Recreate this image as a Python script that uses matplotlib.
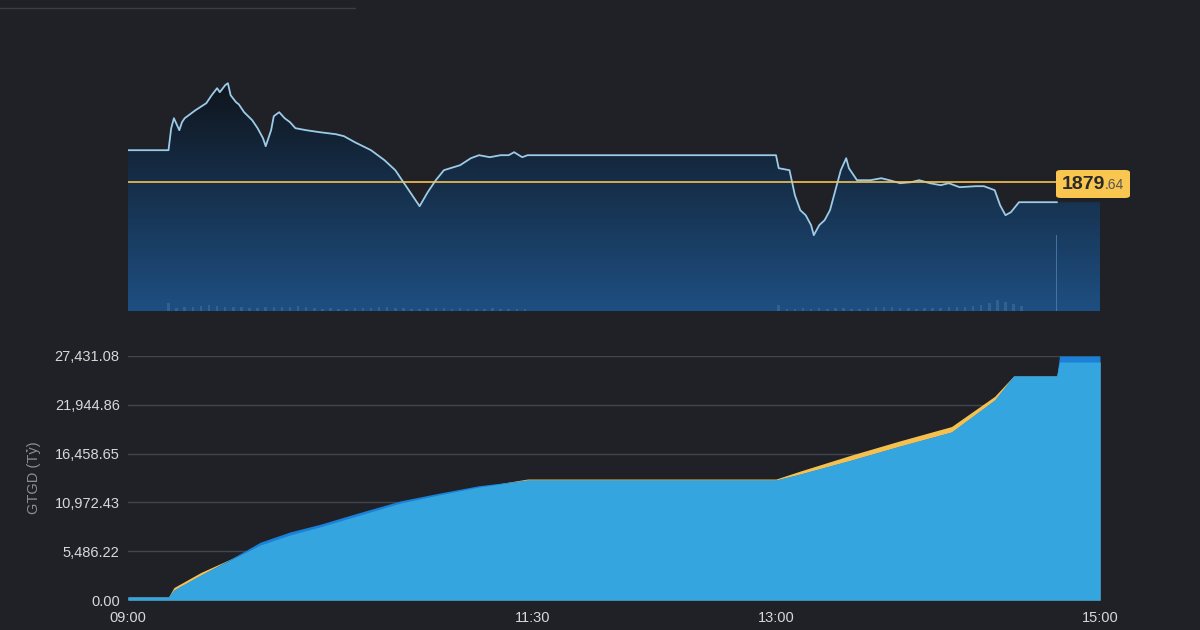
import numpy as np
import matplotlib.pyplot as plt
from matplotlib.patches import FancyBboxPatch
from matplotlib.colors import LinearSegmentedColormap

# =========================
# data (minutes from 09:00)
# =========================
price_t = [0, 15, 16, 17, 19, 20, 21, 25, 29, 31, 33, 34, 36, 37, 38, 40, 41, 43, 46, 48,
           50, 51, 53, 54, 56, 58, 60, 62, 66, 71, 77, 80, 84, 90, 95, 99, 101, 104, 108, 111,
           114, 117, 123, 127, 130, 134, 138, 141, 143, 146, 148, 240, 241, 245, 247, 249, 251,
           253, 254, 256, 258, 260, 262, 264, 266, 267, 270, 275, 279, 282, 286, 290, 293, 297,
           301, 304, 308, 314, 317, 321, 323, 325, 327, 330, 344]
price_v = [1886.0, 1886.0, 1890.4, 1892.4, 1890.0, 1891.6, 1892.4, 1894.0, 1895.4, 1897.0,
           1898.4, 1897.6, 1899.0, 1899.4, 1897.0, 1895.6, 1895.2, 1893.6, 1892.0, 1890.4,
           1888.4, 1886.8, 1890.0, 1892.8, 1893.6, 1892.4, 1891.6, 1890.4, 1890.0, 1889.6,
           1889.2, 1888.8, 1887.6, 1886.0, 1884.0, 1882.0, 1880.4, 1878.0, 1874.8, 1877.6,
           1880.0, 1882.0, 1883.0, 1884.4, 1885.0, 1884.6, 1885.0, 1885.0, 1885.6, 1884.6,
           1885.0, 1885.0, 1882.4, 1882.0, 1877.0, 1874.0, 1873.0, 1871.0, 1869.0, 1871.0,
           1872.0, 1874.0, 1878.0, 1882.0, 1884.4, 1882.4, 1880.0, 1880.0, 1880.4, 1880.0,
           1879.4, 1879.6, 1880.0, 1879.4, 1879.0, 1879.4, 1878.6, 1878.8, 1878.8, 1878.0,
           1875.0, 1873.0, 1873.6, 1875.6, 1875.6]
ref_price = 1879.64

vol_t1 = list(range(15, 148, 3))
vol_v1 = [3.3, 1.2, 1.5, 1.8, 2.0, 2.4, 2.2, 1.8, 1.6, 1.5, 1.3, 1.2, 1.6, 1.5, 1.8, 1.7, 1.9,
          1.6, 1.2, 1.0, 1.1, 0.9, 1.0, 1.4, 1.3, 1.2, 1.5, 1.6, 1.4, 1.2, 1.0, 0.9, 1.1, 1.3,
          1.2, 1.0, 1.1, 0.8, 1.0, 0.9, 1.1, 1.0, 0.8, 0.9, 1.0]
vol_t2 = list(range(241, 332, 3))
vol_v2 = [2.4, 0.8, 1.0, 1.1, 0.9, 1.2, 1.0, 1.3, 1.1, 0.9, 1.0, 1.4, 1.6, 1.8, 1.5, 1.3,
          1.2, 1.0, 1.1, 1.2, 1.4, 1.5, 1.6, 1.8, 2.0, 2.6, 3.2, 4.4, 3.6, 3.0, 2.2]
spike_t = 344
spike_v = 31.5

val_t = [0, 15, 17, 27, 38, 49, 60, 71, 86, 101, 115, 130, 148, 240, 249, 268, 286, 305,
         321, 328, 344, 345, 360]
light_v = [337, 337, 1124, 2811, 4497, 6183, 7307, 8207, 9556, 10905, 11804, 12704, 13490,
           13490, 14165, 15739, 17313, 18887, 22484, 25182, 25182, 26756, 26756]
dark_v = [337, 337, 1124, 2811, 4600, 6500, 7650, 8500, 9850, 11150, 12000, 12850, 13490,
          13490, 14165, 15739, 17313, 18887, 22484, 25182, 25182, 27431, 27431]
yellow_v = [337, 337, 1400, 3100, 4600, 6183, 7307, 8207, 9556, 10905, 11804, 12704, 13600,
            13600, 14500, 16300, 17900, 19500, 22900, 25182, 25182, 26756, 26756]

y_ticks = [0.00, 5486.22, 10972.43, 16458.65, 21944.86, 27431.08]
x_ticks = [0, 150, 240, 360]
x_labels = ["09:00", "11:30", "13:00", "15:00"]

BG = "#1f2127"
TXT = "#d8d8d8"
plt.rcParams['font.family'] = ['Liberation Sans', 'DejaVu Sans']

fig = plt.figure(figsize=(12, 6.3), dpi=100, facecolor=BG)
fig.add_artist(plt.Line2D([0, 0.296], [0.987, 0.987], color="#3a3d45", lw=1))

# =========================
# top panel: price
# =========================
ax1 = fig.add_axes([128 / 1200, 1 - 311 / 630, 972 / 1200, 241 / 630])
ax1.set_facecolor(BG)
ax1.set_xlim(0, 360)
ax1.set_ylim(1853.84, 1902.04)

# fill area carries on past the last trade to the session end
fill_t = price_t + [360]
fill_v = price_v + [price_v[-1]]
poly = ax1.fill_between(fill_t, fill_v, 1853.84, color="none", lw=0)
grad = np.linspace(0, 1, 256).reshape(-1, 1)
cmap = LinearSegmentedColormap.from_list("g", ["#0f141b", "#1e4f82"])
img = ax1.imshow(grad, cmap=cmap, aspect="auto", extent=[0, 360, 1853.84, 1900],
                 origin="upper", zorder=1)
img.set_clip_path(poly.get_paths()[0], transform=ax1.transData)

ax1.plot(price_t, price_v, color="#9ccbe8", lw=1.3, zorder=3)
ax1.axhline(ref_price, color="#f5c250", lw=1.2, zorder=4)

ax2 = ax1.twinx()
ax2.set_ylim(0, 100)
ax2.bar(vol_t1, vol_v1, width=0.9, color="#3f6f9e", alpha=0.6)
ax2.bar(vol_t2, vol_v2, width=0.9, color="#3f6f9e", alpha=0.6)
ax2.bar([spike_t], [spike_v], width=0.4, color="#4f7fae", alpha=0.8)

for a in (ax1, ax2):
    a.set_xticks([])
    a.set_yticks([])
    for s in a.spines.values():
        s.set_visible(False)

box = FancyBboxPatch((1056 / 1200, 1 - 198 / 630), 74 / 1200, 28 / 630,
                     boxstyle="round,pad=0,rounding_size=0.004", transform=fig.transFigure,
                     facecolor="#f9c650", edgecolor="none")
fig.add_artist(box)
fig.text(1062 / 1200, 1 - 184 / 630, "1879", fontsize=14, fontweight="bold",
         color="#2a2a2a", va="center")
fig.text(1105 / 1200, 1 - 185 / 630, ".64", fontsize=10, color="#555555", va="center")

# =========================
# bottom panel: cumulative value
# =========================
ax3 = fig.add_axes([128 / 1200, 1 - 600 / 630, 972 / 1200, 244 / 630])
ax3.set_facecolor(BG)
ax3.set_xlim(0, 360)
ax3.set_ylim(0, 27431.08)
ax3.fill_between(val_t, yellow_v, color="#f6c04e", lw=0, zorder=2)
ax3.fill_between(val_t, dark_v, color="#1a80d8", lw=0, zorder=3)
ax3.fill_between(val_t, light_v, color="#34a5de", lw=0, zorder=4)

ax3.set_yticks(y_ticks)
ax3.set_yticklabels([f"{v:,.2f}" for v in y_ticks])
ax3.set_xticks(x_ticks)
ax3.set_xticklabels(x_labels)
ax3.grid(axis="y", color="#42454d", lw=1, zorder=0)
ax3.tick_params(colors=TXT, labelsize=10.5, length=0, pad=6)
ax3.tick_params(axis="x", pad=8)
for s in ax3.spines.values():
    s.set_visible(False)
ax3.set_ylabel("GTGD (Tỷ)", color="#8a8d93", fontsize=10.5, labelpad=10)

plt.savefig("out.png", dpi=100, facecolor=BG)
